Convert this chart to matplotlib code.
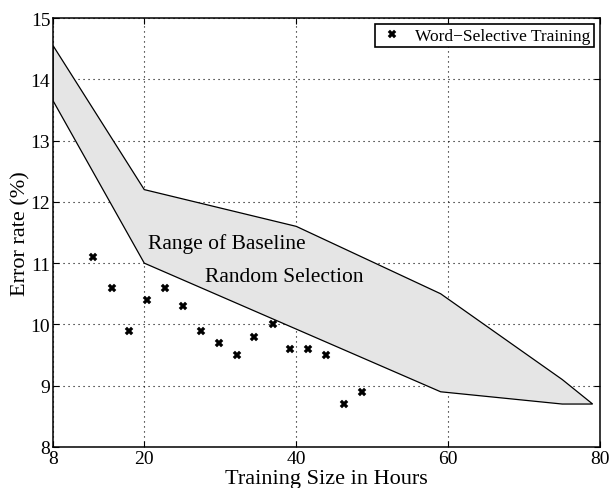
import matplotlib
matplotlib.use("Agg")
import matplotlib.pyplot as plt
from matplotlib.ticker import FixedLocator

plt.rcParams['font.family'] = ['Liberation Serif', 'DejaVu Serif']

# Baseline range (random selection) boundaries
upper_x = [8, 20, 40, 59, 75, 79]
upper_y = [14.55, 12.2, 11.6, 10.5, 9.1, 8.7]
lower_x = [8, 20, 59, 75, 79]
lower_y = [13.65, 11.0, 8.9, 8.7, 8.7]

# Word-selective training points
ws_x = [13.3, 15.7, 18.0, 20.4, 22.7, 25.1, 27.4, 29.8, 32.2, 34.5, 36.9, 39.2,
        41.6, 43.9, 46.3, 48.7]
ws_y = [11.1, 10.6, 9.9, 10.4, 10.6, 10.3, 9.9, 9.7, 9.5, 9.8, 10.0, 9.6,
        9.6, 9.5, 8.7, 8.9]

xticks = [8, 20, 40, 60, 80]
yticks = [8, 9, 10, 11, 12, 13, 14, 15]

fig = plt.figure(figsize=(6.1, 4.89), dpi=100)
ax = fig.add_axes([0.087, 0.084, 0.897, 0.877])

poly_x = upper_x + lower_x[::-1]
poly_y = upper_y + lower_y[::-1]
ax.fill(poly_x, poly_y, facecolor='#e5e5e5', edgecolor='black', linewidth=0.9, zorder=2)

ax.plot(ws_x, ws_y, linestyle='none', marker='X', markersize=5.5, color='black',
        markeredgewidth=0.3, label='Word\u2212Selective Training', zorder=3)

ax.text(20.5, 11.33, 'Range of Baseline', fontsize=15.5, va='center', ha='left', zorder=4)
ax.text(28.0, 10.78, 'Random Selection', fontsize=15.5, va='center', ha='left', zorder=4)

ax.set_xlim(8, 80)
ax.set_ylim(8, 15)
ax.xaxis.set_major_locator(FixedLocator(xticks))
ax.yaxis.set_major_locator(FixedLocator(yticks))
ax.tick_params(direction='in', top=True, right=True, labelsize=14, length=4, width=0.8, pad=2)
ax.grid(True, linestyle=(0, (1, 3.5)), color='black', linewidth=0.8)
ax.set_axisbelow(True)
for s in ax.spines.values():
    s.set_linewidth(1.1)

ax.set_xlabel('Training Size in Hours', fontsize=16, labelpad=1.5)
ax.set_ylabel('Error rate (%)', fontsize=16, labelpad=0)

leg = ax.legend(loc='upper right', fontsize=12.5, frameon=True, fancybox=False,
                edgecolor='black', framealpha=1, borderpad=0.2, handletextpad=0.6,
                borderaxespad=0.35, handlelength=1.5)
leg.get_frame().set_linewidth(1.2)

fig.savefig('out.png', dpi=100)
